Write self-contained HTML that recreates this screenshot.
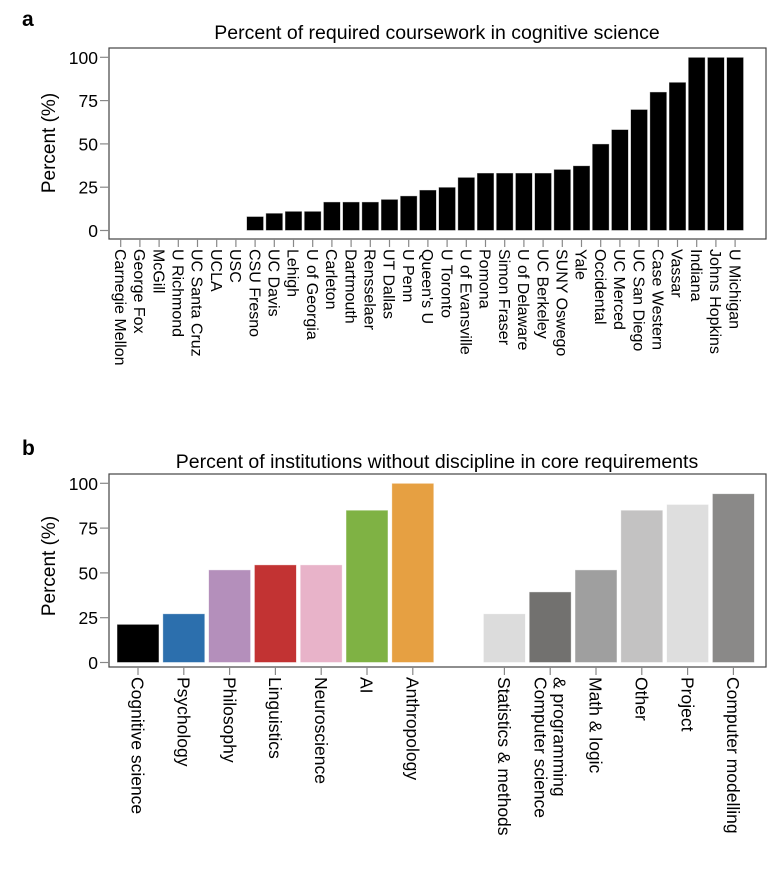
<!DOCTYPE html>
<html><head><meta charset="utf-8"><style>
body{margin:0;background:#fff;}
svg{display:block;font-family:"Liberation Sans",sans-serif;}
</style></head><body>
<svg id="chart" width="780" height="882" viewBox="0 0 780 882">
<text x="22" y="26" font-size="21" font-weight="bold">a</text>
<text x="437" y="39" font-size="19.5" text-anchor="middle">Percent of required coursework in cognitive science</text>
<text transform="translate(55,143) rotate(-90)" font-size="19" text-anchor="middle">Percent (%)</text>
<text x="22" y="455" font-size="21" font-weight="bold">b</text>
<text x="437" y="468" font-size="19.5" text-anchor="middle">Percent of institutions without discipline in core requirements</text>
<text transform="translate(55,566) rotate(-90)" font-size="19" text-anchor="middle">Percent (%)</text>
<g id="pa"></g>
<g id="pb"></g>
</svg>
<script>
const aCategories=["Carnegie Mellon","George Fox","McGill","U Richmond","UC Santa Cruz","UCLA","USC","CSU Fresno","UC Davis","Lehigh","U of Georgia","Carleton","Dartmouth","Rensselaer","UT Dallas","U Penn","Queen's U","U Toronto","U of Evansville","Pomona","Simon Fraser","U of Delaware","UC Berkeley","SUNY Oswego","Yale","Occidental","UC Merced","UC San Diego","Case Western","Vassar","Indiana","Johns Hopkins","U Michigan"];
const aValues=[0,0,0,0,0,0,0,8.1,10,11.1,11.1,16.5,16.5,16.5,18,20,23.4,25,30.7,33.2,33.2,33.2,33.2,35.3,37.4,50,58.3,69.9,80,85.6,100,100,100];
const bCategories=["Cognitive science","Psychology","Philosophy","Linguistics","Neuroscience","AI","Anthropology","","Statistics & methods","Computer science|& programming","Math & logic","Other","Project","Computer modelling"];
const bValues=[21.3,27.2,51.7,54.5,54.5,85,100,null,27.2,39.4,51.7,85,88.2,94.2];
const bColors=["#000000","#2c6fad","#b48fbb","#c23333","#e8b3c9","#7fb244","#e6a042","none","#dcdcdc","#72716f","#9f9f9f","#c3c2c2","#dedede","#8a8988"];
const yTicks=[0,25,50,75,100];
const NS="http://www.w3.org/2000/svg";
function mk(p,t,a){const e=document.createElementNS(NS,t);for(const k in a)e.setAttribute(k,a[k]);p.appendChild(e);return e;}
function panel(g,cats,vals,colors,o){
  const y=v=>o.y0-(v/100)*(o.y0-o.y100);
  const x=i=>o.x0+i*o.step;
  const fr=mk(g,'rect',{x:109,y:o.top,width:657,height:o.bot-o.top,fill:'none',stroke:'#444','stroke-width':1.2});
  
  
  yTicks.forEach(t=>{
    const l=mk(g,'line',{x1:100,x2:109,y1:y(t),y2:y(t),stroke:'#888','stroke-width':1.2});
    
    
    const tx=mk(g,'text',{x:98,y:y(t)+6.5,'font-size':17.5,'text-anchor':'end'});
    tx.textContent=t;
    
    
  });
  cats.forEach((c,i)=>{
    const cx=x(i);
    if(vals[i]!==null){
      const top=y(vals[i]);
      const r=mk(g,'rect',{x:cx-o.bw/2,y:top,width:o.bw,height:Math.max(0,o.y0-top),fill:colors?colors[i]:'#000',stroke:'rgba(255,255,255,0.6)','stroke-width':0.8});
      
      
      const tk=mk(g,'line',{x1:cx,x2:cx,y1:o.bot,y2:o.bot+8,stroke:'#888','stroke-width':1.2});
      
      
      const lines=c.split('|');
      lines.forEach((ln,j)=>{
        const off=(j-(lines.length-1)/2)*19;
        const t=mk(g,'text',{transform:`translate(${cx+off-o.fs*0.36},${o.bot+10}) rotate(90)`,'font-size':o.fs});
        t.textContent=ln;
        
        
      });
    }
  });
}
panel(document.getElementById('pa'),aCategories,aValues,null,{x0:120.7,step:19.2,bw:17,y0:230.5,y100:57.3,top:48,bot:239,fs:16});
panel(document.getElementById('pb'),bCategories,bValues,bColors,{x0:138,step:45.8,bw:42,y0:662.5,y100:483.3,top:474,bot:667,fs:17.5});
</script>
</body></html>
